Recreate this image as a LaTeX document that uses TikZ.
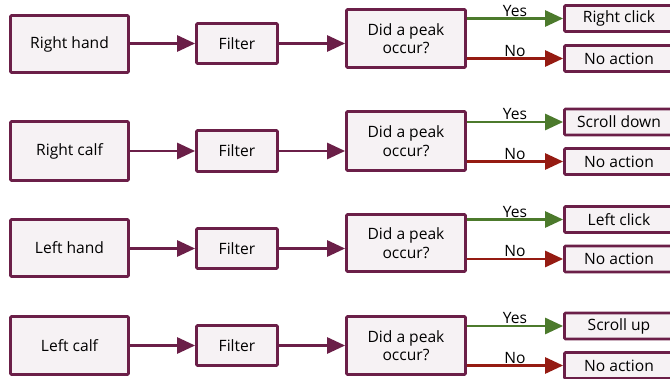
\documentclass[tikz,border=0pt]{standalone}
\usepackage{fontspec}
\setmainfont{Open Sans}
\usetikzlibrary{arrows.meta}
\definecolor{boxline}{HTML}{6B1F48}
\definecolor{boxfill}{HTML}{F6F2F4}
\definecolor{yesgreen}{HTML}{4C7A2C}
\definecolor{nored}{HTML}{951B12}
\begin{document}
\begin{tikzpicture}[
  font=\fontsize{15.6}{18.5}\selectfont,
  srcnode/.style={draw=boxline, fill=boxfill, line width=2.8pt, rounded corners=1pt,
                  minimum width=118pt, minimum height=57pt, inner sep=0pt},
  fltnode/.style={srcnode, minimum width=81pt, minimum height=40pt},
  decnode/.style={srcnode, minimum width=119pt, minimum height=58pt, align=center},
  actnode/.style={srcnode, minimum width=109pt, minimum height=26pt},
  flowedge/.style={draw=boxline, line width=2.8pt, -{Triangle[length=18pt,width=16pt]}},
  yesedge/.style={flowedge, draw=yesgreen, fill=yesgreen},
  noedge/.style={flowedge, draw=nored, fill=nored},
  edgelabel/.style={above, midway, inner sep=0.5pt, text=black},
]
  \useasboundingbox (0pt,0pt) rectangle (670pt,-379pt);
  \clip (0pt,0pt) rectangle (670pt,-379pt);
  % row 1
  \node[srcnode] (src1) at (69.5pt,-44pt) {Right hand};
  \node[fltnode] (flt1) at (237pt,-43.5pt) {Filter};
  \node[decnode] (dec1) at (406pt,-38.5pt) {Did a peak\\occur?};
  \node[actnode] (yes1) at (619pt,-18.5pt) {Right click};
  \node[actnode] (no1) at (619pt,-58.5pt) {No action};
  \draw[flowedge, fill=boxline] (src1.east |- flt1.west) -- (flt1.west);
  \draw[flowedge, fill=boxline] (flt1.east) -- (flt1.east -| dec1.west);
  \draw[yesedge] (yes1.west -| dec1.east) -- (yes1.west) node[edgelabel]{Yes};
  \draw[noedge] (no1.west -| dec1.east) -- (no1.west) node[edgelabel]{No};
  % row 2
  \node[srcnode, minimum height=59pt] (src2) at (69.5pt,-151pt) {Right calf};
  \node[fltnode, minimum height=41pt] (flt2) at (237pt,-151pt) {Filter};
  \node[decnode, minimum height=59pt] (dec2) at (406pt,-141pt) {Did a peak\\occur?};
  \node[actnode] (yes2) at (619pt,-122pt) {Scroll down};
  \node[actnode] (no2) at (619pt,-161.5pt) {No action};
  \draw[flowedge, fill=boxline] (src2.east |- flt2.west) -- (flt2.west);
  \draw[flowedge, fill=boxline] (flt2.east) -- (flt2.east -| dec2.west);
  \draw[yesedge] (yes2.west -| dec2.east) -- (yes2.west) node[edgelabel]{Yes};
  \draw[noedge] (no2.west -| dec2.east) -- (no2.west) node[edgelabel]{No};
  % row 3
  \node[srcnode] (src3) at (69.5pt,-248pt) {Left hand};
  \node[fltnode] (flt3) at (237pt,-248.5pt) {Filter};
  \node[decnode, minimum height=57pt] (dec3) at (406pt,-243pt) {Did a peak\\occur?};
  \node[actnode] (yes3) at (619pt,-219.5pt) {Left click};
  \node[actnode] (no3) at (619pt,-259pt) {No action};
  \draw[flowedge, fill=boxline] (src3.east |- flt3.west) -- (flt3.west);
  \draw[flowedge, fill=boxline] (flt3.east) -- (flt3.east -| dec3.west);
  \draw[yesedge] (yes3.west -| dec3.east) -- (yes3.west) node[edgelabel]{Yes};
  \draw[noedge] (no3.west -| dec3.east) -- (no3.west) node[edgelabel]{No};
  % row 4
  \node[srcnode, minimum height=58pt] (src4) at (69.5pt,-345.5pt) {Left calf};
  \node[fltnode] (flt4) at (237pt,-345.5pt) {Filter};
  \node[decnode] (dec4) at (406pt,-345.5pt) {Did a peak\\occur?};
  \node[actnode] (yes4) at (619pt,-326pt) {Scroll up};
  \node[actnode] (no4) at (619pt,-365.5pt) {No action};
  \draw[flowedge, fill=boxline] (src4.east |- flt4.west) -- (flt4.west);
  \draw[flowedge, fill=boxline] (flt4.east) -- (flt4.east -| dec4.west);
  \draw[yesedge] (yes4.west -| dec4.east) -- (yes4.west) node[edgelabel]{Yes};
  \draw[noedge] (no4.west -| dec4.east) -- (no4.west) node[edgelabel]{No};
\end{tikzpicture}
\end{document}
